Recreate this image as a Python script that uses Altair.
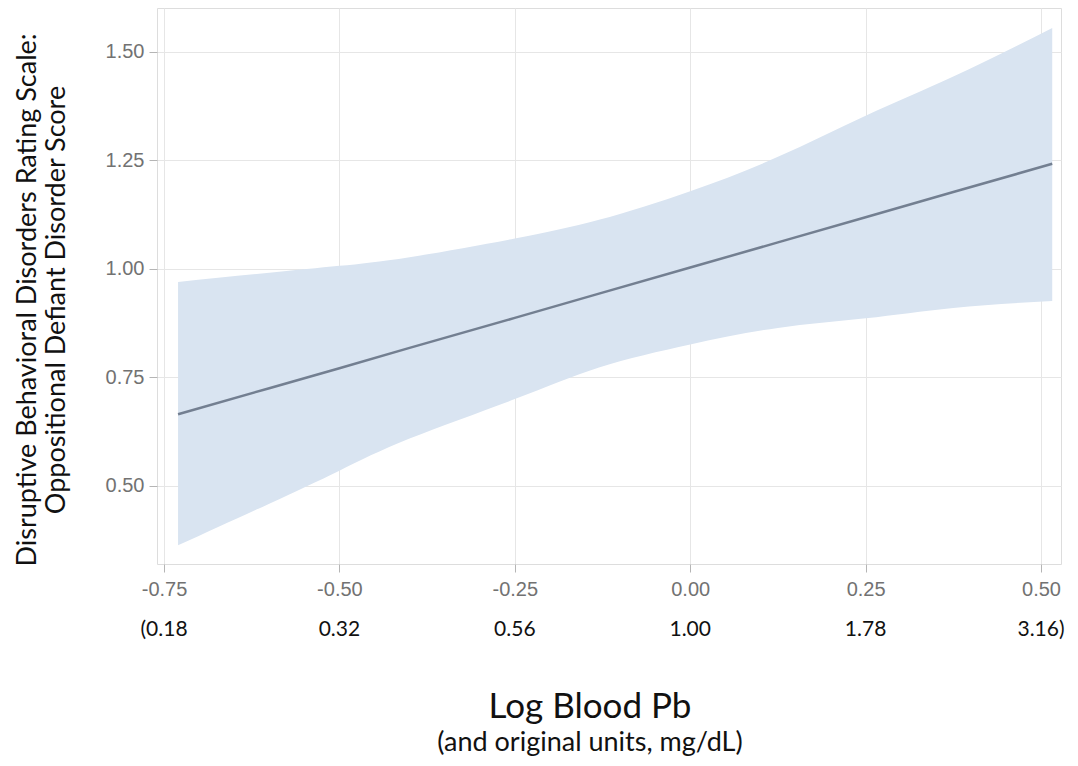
import altair as alt
import pandas as pd

# --- data ---
x_log = [-0.73, -0.60, -0.50, -0.40, -0.25, -0.13, 0.00, 0.125, 0.25, 0.375, 0.516]
fit = [0.665, 0.725, 0.771, 0.818, 0.887, 0.943, 1.003, 1.061, 1.119, 1.177, 1.242]
upper = [0.970, 0.991, 1.007, 1.027, 1.070, 1.113, 1.179, 1.258, 1.353, 1.443, 1.555]
lower = [0.363, 0.459, 0.535, 0.609, 0.700, 0.773, 0.826, 0.864, 0.886, 0.910, 0.926]

x_ticks = [-0.75, -0.50, -0.25, 0.00, 0.25, 0.50]
orig_labels = ["(0.18", "0.32", "0.56", "1.00", "1.78", "3.16)"]
y_ticks = [0.50, 0.75, 1.00, 1.25, 1.50]

y_title_1 = "Disruptive Behavioral Disorders Rating Scale:"
y_title_2 = "Oppositional Defiant Disorder Score"
x_title = "Log Blood Pb"
x_subtitle = "(and original units, mg/dL)"

df = pd.DataFrame({"x": x_log, "fit": fit, "upper": upper, "lower": lower})
df_ticks = pd.DataFrame({"tick": x_ticks, "lab": orig_labels})

W, H = 904, 556
x_scale = alt.Scale(domain=[-0.760, 0.5285], nice=False, zero=False)
y_scale = alt.Scale(domain=[0.320, 1.601], nice=False, zero=False)

x_axis = alt.Axis(
    values=x_ticks, title=None, grid=True, domain=False,
    labelExpr="replace(format(datum.value, '.2f'), '\u2212', '-')",
    tickSize=8, labelPadding=7, labelFont="Liberation Sans", labelFontSize=20,
    labelColor="#727272", tickColor="#b5b5b5", gridColor="#e6e6e6",
)
y_axis = alt.Axis(
    values=y_ticks, title=None, grid=True, domain=False, format=".2f",
    tickSize=8, labelPadding=5, labelFont="Liberation Sans", labelFontSize=20,
    labelColor="#727272", tickColor="#b5b5b5", gridColor="#e6e6e6",
)


def xenc(field):
    return alt.X(field, type="quantitative", scale=x_scale, axis=x_axis)


base = alt.Chart(df)
band = base.mark_area(color="#d9e4f1", opacity=1, interpolate="natural").encode(
    x=xenc("x"),
    y=alt.Y("lower:Q", scale=y_scale, axis=y_axis),
    y2="upper:Q",
)
line = base.mark_line(color="#737f91", strokeWidth=2.5).encode(
    x=xenc("x"),
    y=alt.Y("fit:Q", scale=y_scale, axis=y_axis),
)
row2 = alt.Chart(df_ticks).mark_text(
    font="Lato", fontSize=21, color="#111111", baseline="middle", align="center"
).encode(x=xenc("tick"), y=alt.value(622), text="lab:N")


def label(txt, x, y, size, angle=0, baseline="alphabetic"):
    return alt.Chart(pd.DataFrame({"t": [txt]})).mark_text(
        font="Lato", fontSize=size, color="#111111", align="center",
        baseline=baseline, angle=angle,
    ).encode(x=alt.value(x), y=alt.value(y), text="t:N")


t1 = label(x_title, 433, 710, 35)
t2 = label(x_subtitle, 433, 743, 27)
yt1 = label(y_title_1, -129, 292, 27, angle=270, baseline="middle")
yt2 = label(y_title_2, -100, 292, 27, angle=270, baseline="middle")

chart = alt.layer(band, line, row2, t1, t2, yt1, yt2).properties(
    width=W, height=H,
    padding={"left": 149, "top": 0, "right": 9, "bottom": 194},
    autosize=alt.AutoSizeParams(type="none"),
).configure_view(stroke="#c4c4c4", strokeWidth=1.5).configure(background="white")

chart.save("out.html", embed_options={"renderer": "svg", "actions": False})
